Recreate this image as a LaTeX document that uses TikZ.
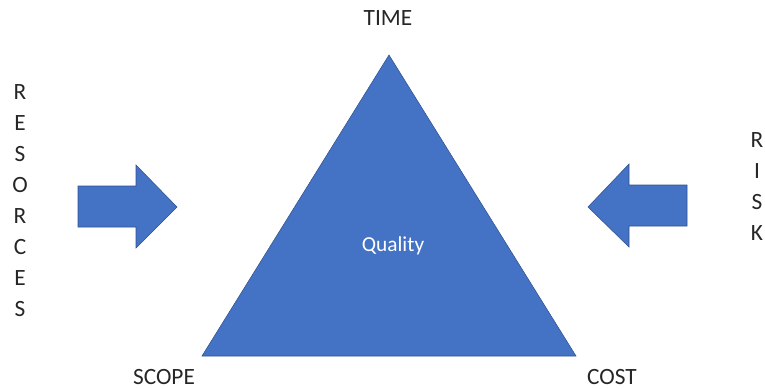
\documentclass[tikz,border=0pt]{standalone}
\usepackage{fontspec}
\setmainfont{Carlito}
\usepackage{tikz}
\definecolor{triblue}{HTML}{4472C4}
\definecolor{edgeblue}{HTML}{2F528F}
\tikzset{
  bluefill/.style={fill=triblue, draw=edgeblue, line width=0.4pt},
  word/.style={font=\fontsize{17.5}{20}\selectfont, text=black!85, inner sep=0pt},
}

\begin{document}
\begin{tikzpicture}[x=0.75pt, y=-0.75pt]
        \useasboundingbox (0,0) rectangle (765,389);
        \coordinate (apex) at (389,55);
        \coordinate (lcorner) at (202,356);
        \coordinate (rcorner) at (576,356);
        \draw[bluefill] (apex) -- (rcorner) -- (lcorner) -- cycle;
        \node[word] (time) at (388,18) {TIME};
        \node[word] (scope) at (164,377) {SCOPE};
        \node[word] (cost) at (612,377) {COST};
        \node[word, font=\fontsize{16}{18}\selectfont, text=white] (quality) at (393,246) {Quality};
        \draw[bluefill] (78,186) -- (136,186) -- (136,165) -- (177,207)
          -- (136,248) -- (136,227) -- (78,227) -- cycle;
        \draw[bluefill] (687,185) -- (629,185) -- (629,164) -- (588,207)
          -- (629,247) -- (629,226) -- (687,226) -- cycle;
        \foreach \l [count=\i] in {R,E,S,O,R,C,E,S}{
          \node[word] (res\i) at (20,61+31*\i) {\l};
        }
        \foreach \l [count=\i] in {R,I,S,K}{
          \node[word] (risk\i) at (757,109+31*\i) {\l};
        }
      \end{tikzpicture}
\end{document}
